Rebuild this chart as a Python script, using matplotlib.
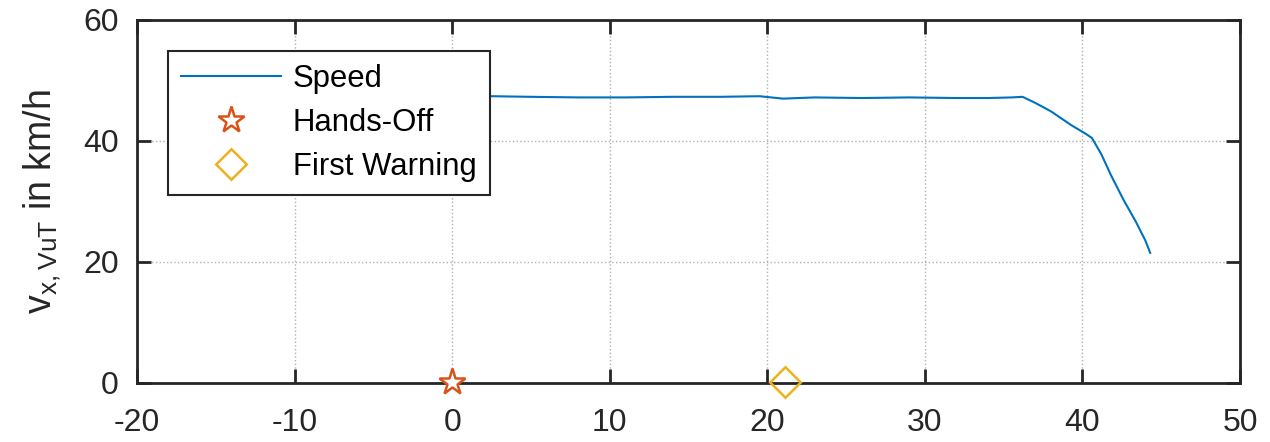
import matplotlib
matplotlib.use("Agg")
import matplotlib.pyplot as plt

plt.rcParams['font.family'] = ['Liberation Sans', 'DejaVu Sans']
plt.rcParams['mathtext.fontset'] = 'custom'
plt.rcParams['mathtext.rm'] = 'Liberation Sans'
plt.rcParams['axes.unicode_minus'] = False

# data
time_s = [0, 2.5, 5, 8, 11, 14, 17, 19.5, 21, 23, 26, 29, 32, 34, 35.5, 36.2,
          37, 38, 39.3, 40.2, 40.6, 41.2, 41.8, 42.6, 43.4, 44.0, 44.3]
speed_kmh = [47.3, 47.4, 47.3, 47.2, 47.2, 47.3, 47.3, 47.4, 47.0, 47.2, 47.1, 47.2,
             47.1, 47.1, 47.2, 47.3, 46.3, 44.9, 42.6, 41.2, 40.5, 37.8, 34.4, 30.3,
             26.6, 23.5, 21.5]
hands_off = (0.0, 0.2)
first_warning = (21.1, 0.2)
xticks = [-20, -10, 0, 10, 20, 30, 40, 50]
yticks = [0, 20, 40, 60]

fig = plt.figure(figsize=(12.7, 4.42), dpi=100)
ax = fig.add_axes([0.1079, 0.1335, 0.9764 - 0.1079, 0.9548 - 0.1335])

dark = '#262626'
ax.plot(time_s, speed_kmh, color='#0072BD', lw=1.5, label='Speed', zorder=3)
ax.plot([hands_off[0]], [hands_off[1]], linestyle='none', marker='*', ms=20,
        mfc='white', mec='#D95319', mew=1.8, label='Hands-Off', zorder=4, clip_on=False)
ax.plot([first_warning[0]], [first_warning[1]], linestyle='none', marker=(4, 0, 0), ms=22,
        mfc='none', mec='#EDB120', mew=1.8, label='First Warning', zorder=4, clip_on=False)

ax.set_xlim(-20, 50)
ax.set_ylim(0, 60)
ax.set_xticks(xticks)
ax.set_yticks(yticks)
ax.grid(True, color='#b0b0b0', linestyle=':', lw=1.0)
ax.set_axisbelow(True)
ax.tick_params(direction='in', length=10, width=2, colors=dark, labelsize=23,
               top=True, right=True)
ax.tick_params(axis='x', pad=18)
ax.tick_params(axis='y', pad=13)
for s in ax.spines.values():
    s.set_color(dark)
    s.set_linewidth(2)
ax.set_ylabel(r'$\mathregular{v_{x,VuT}}$ in km/h', fontsize=27, color=dark, labelpad=15)

leg = ax.legend(loc='upper left', bbox_to_anchor=(0.028, 0.915), fontsize=22.4,
                frameon=True, fancybox=False, edgecolor=dark, framealpha=1,
                handlelength=3.2, borderpad=0.42, labelspacing=0.45, handletextpad=0.4,
                borderaxespad=0)
leg.get_frame().set_linewidth(1.5)
for t in leg.get_texts():
    t.set_color('black')

fig.savefig('out.png', dpi=100)
